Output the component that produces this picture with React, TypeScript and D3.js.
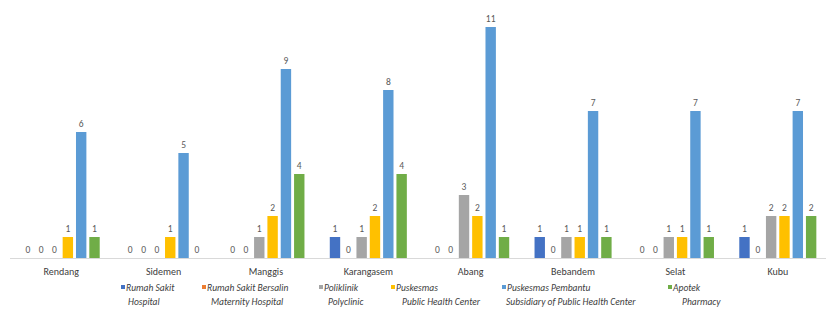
import { useEffect } from 'react';
import * as d3 from 'd3';

const WIDTH = 829;
const HEIGHT = 313;

const districts = ['Rendang', 'Sidemen', 'Manggis', 'Karangasem', 'Abang', 'Bebandem', 'Selat', 'Kubu'];

const seriesKeys = ['rs', 'rsb', 'poli', 'pusk', 'pustu', 'apotek'];
const seriesTop = ['Rumah Sakit', 'Rumah Sakit Bersalin', 'Poliklinik', 'Puskesmas', 'Puskesmas Pembantu', 'Apotek'];
const seriesBottom = ['Hospital', 'Maternity Hospital', 'Polyclinic', 'Public Health Center', 'Subsidiary of Public Health Center', 'Pharmacy'];
const seriesColors = ['#4472C4', '#ED7D31', '#A5A5A5', '#FFC000', '#5B9BD5', '#70AD47'];

const rumahSakit = [0, 0, 0, 1, 0, 1, 0, 1];
const rumahSakitBersalin = [0, 0, 0, 0, 0, 0, 0, 0];
const poliklinik = [0, 0, 1, 1, 3, 1, 1, 2];
const puskesmas = [1, 1, 2, 2, 2, 1, 1, 2];
const puskesmasPembantu = [6, 5, 9, 8, 11, 7, 7, 7];
const apotek = [1, 0, 4, 4, 1, 1, 1, 2];

const seriesValues = [rumahSakit, rumahSakitBersalin, poliklinik, puskesmas, puskesmasPembantu, apotek];

// legend layout (x of marker, indent of second line)
const legendX = [121, 202, 319, 391, 502, 668];
const legendIndent = [7, 9, 9, 11, 4, 14];

export default function App() {
  useEffect(() => {
    document.body.style.margin = '0';
  }, []);

  const x0 = d3.scaleBand().domain(districts).range([10, 829]).paddingInner(0.19).paddingOuter(0.095);
  const x1 = d3.scaleBand().domain(seriesKeys).range([0, x0.bandwidth()]).padding(0.22);
  const y = d3.scaleLinear().domain([0, 12]).range([258, 6]);

  const font = "Calibri, Carlito, 'Liberation Sans Narrow', 'Liberation Sans', Arial, sans-serif";

  return (
    <svg width={WIDTH} height={HEIGHT} style={{ display: 'block', background: '#fff', fontFamily: font }}>
      {/* baseline */}
      <line x1={10} x2={826} y1={y(0) + 0.5} y2={y(0) + 0.5} stroke="#D9D9D9" strokeWidth={1} />

      {districts.map((d, i) => (
        <g key={d} transform={`translate(${x0(d)},0)`}>
          {seriesKeys.map((k, s) => {
            const v = seriesValues[s][i];
            const bx = x1(k) as number;
            return (
              <g key={k}>
                {v > 0 && (
                  <rect x={bx} y={y(v)} width={x1.bandwidth()} height={y(0) - y(v)} fill={seriesColors[s]} />
                )}
                <text x={bx + x1.bandwidth() / 2} y={y(v) - 5} textAnchor="middle" fontSize={9.5} fill="#595959">
                  {v}
                </text>
              </g>
            );
          })}
          <text x={x0.bandwidth() / 2} y={275} textAnchor="middle" fontSize={10} fill="#404040">
            {d}
          </text>
        </g>
      ))}

      {/* legend */}
      {seriesKeys.map((k, s) => (
        <g key={k} transform={`translate(${legendX[s]},0)`} fontStyle="italic" fontSize={9.5} fill="#404040">
          <rect x={0} y={285} width={4} height={4} fill={seriesColors[s]} />
          <text x={5} y={291}>{seriesTop[s]}</text>
          <text x={legendIndent[s]} y={305}>{seriesBottom[s]}</text>
        </g>
      ))}
    </svg>
  );
}
